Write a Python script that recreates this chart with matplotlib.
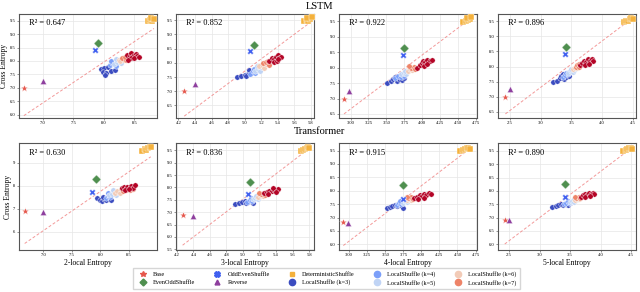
import numpy as np
import matplotlib
matplotlib.use("Agg")
import matplotlib.pyplot as plt
from matplotlib.ticker import FormatStrFormatter
from matplotlib.lines import Line2D

plt.rcParams["font.family"] = ["Liberation Serif", "DejaVu Serif"]

ngrams = [2, 3, 4, 5]
r2_lstm = ["0.647", "0.852", "0.922", "0.896"]
r2_tf = ["0.630", "0.836", "0.915", "0.890"]

# single-point models, one value per panel (n = 2..5)
lstm_base_x = [6.69, 4.27, 2.91, 2.43]
lstm_base_y = [7.00, 7.00, 7.00, 7.00]
lstm_rev_x = [7.00, 4.40, 2.98, 2.50]
lstm_rev_y = [7.26, 7.27, 7.24, 7.27]
lstm_oddeven_x = [7.85, 5.07, 3.73, 3.39]
lstm_oddeven_y = [8.41, 8.41, 8.40, 8.41]
lstm_evenodd_x = [7.90, 5.11, 3.75, 3.42]
lstm_evenodd_y = [8.65, 8.64, 8.63, 8.64]

tf_base_x = [6.67, 4.27, 2.92, 2.43]
tf_base_y = [6.91, 6.89, 6.84, 6.91]
tf_rev_x = [6.99, 4.39, 2.99, 2.50]
tf_rev_y = [6.88, 6.86, 6.79, 6.89]
tf_oddeven_x = [7.86, 5.06, 3.74, 3.41]
tf_oddeven_y = [7.75, 7.72, 7.70, 7.77]
tf_evenodd_x = [7.93, 5.09, 3.75, 3.42]
tf_evenodd_y = [8.29, 8.23, 8.20, 8.25]

# DeterministicShuffle clusters
lstm_det_x = [[8.72, 8.75, 8.78, 8.80, 8.77, 8.82], [5.72, 5.75, 5.77, 5.79, 5.76, 5.81],
              [4.56, 4.60, 4.63, 4.66, 4.62, 4.68], [4.35, 4.39, 4.42, 4.45, 4.47, 4.50]]
lstm_det_y = [[9.48, 9.53, 9.50, 9.57, 9.60, 9.55], [9.47, 9.52, 9.49, 9.56, 9.58, 9.60],
              [9.48, 9.52, 9.55, 9.58, 9.60, 9.62], [9.48, 9.52, 9.50, 9.56, 9.60, 9.58]]
tf_det_x = [[8.74, 8.78, 8.81, 8.84, 8.87, 8.89], [5.70, 5.73, 5.75, 5.77, 5.79, 5.80],
            [4.53, 4.57, 4.60, 4.63, 4.65, 4.67], [4.37, 4.41, 4.44, 4.47, 4.50, 4.52]]
tf_det_y = [[9.52, 9.58, 9.55, 9.62, 9.66, 9.68], [9.47, 9.52, 9.55, 9.58, 9.62, 9.60],
            [9.47, 9.51, 9.54, 9.58, 9.61, 9.57], [9.49, 9.53, 9.56, 9.60, 9.62, 9.58]]

# LocalShuffle clusters, k = 3..8
lstm_k3_x = [[7.96, 8.01, 8.07, 7.98, 8.04, 8.12, 8.18, 8.02], [4.91, 4.96, 5.00, 5.04, 5.08, 5.12, 5.02, 5.05],
             [3.51, 3.56, 3.59, 3.62, 3.65, 3.68, 3.71, 3.74], [3.20, 3.27, 3.31, 3.34, 3.38, 3.42, 3.46, 3.36]]
lstm_k3_y = [[7.69, 7.75, 7.78, 7.59, 7.54, 7.63, 7.66, 7.46], [7.50, 7.55, 7.58, 7.60, 7.66, 7.72, 7.53, 7.76],
             [7.49, 7.56, 7.62, 7.70, 7.58, 7.64, 7.60, 7.66], [7.50, 7.54, 7.62, 7.70, 7.58, 7.64, 7.68, 7.76]]
lstm_k4_x = [[8.10, 8.14, 8.18, 8.12, 8.20], [5.07, 5.10, 5.13, 5.15, 5.11],
             [3.62, 3.66, 3.70, 3.72, 3.75], [3.36, 3.40, 3.44, 3.47, 3.42]]
lstm_k4_y = [[7.84, 7.92, 7.88, 7.98, 7.80], [7.62, 7.70, 7.66, 7.75, 7.80],
             [7.66, 7.74, 7.70, 7.80, 7.74], [7.66, 7.72, 7.76, 7.82, 7.80]]
lstm_k5_x = [[8.16, 8.22, 8.26, 8.20, 8.28], [5.12, 5.16, 5.19, 5.20, 5.15],
             [3.70, 3.74, 3.77, 3.80, 3.76], [3.45, 3.49, 3.52, 3.54, 3.50]]
lstm_k5_y = [[7.90, 7.97, 8.02, 8.06, 7.94], [7.70, 7.78, 7.72, 7.84, 7.88],
             [7.78, 7.84, 7.80, 7.88, 7.90], [7.80, 7.86, 7.82, 7.90, 7.92]]
lstm_k6_x = [[8.24, 8.30, 8.27, 8.33], [5.18, 5.22, 5.24, 5.26],
             [3.80, 3.83, 3.86, 3.85], [3.53, 3.56, 3.59, 3.61]]
lstm_k6_y = [[8.04, 8.08, 7.98, 8.02], [7.88, 7.90, 7.82, 7.95],
             [7.90, 7.96, 7.92, 8.00], [7.92, 7.96, 7.94, 8.00]]
lstm_k7_x = [[8.30, 8.36, 8.40, 8.34], [5.22, 5.26, 5.29, 5.28],
             [3.84, 3.88, 3.82, 3.90], [3.57, 3.60, 3.63, 3.62]]
lstm_k7_y = [[8.12, 8.05, 8.10, 8.16], [7.98, 8.02, 7.94, 8.06],
             [7.98, 8.02, 8.04, 7.96], [7.98, 8.04, 8.00, 8.08]]
lstm_k8_x = [[8.38, 8.42, 8.45, 8.48, 8.52, 8.55, 8.44, 8.50, 8.40, 8.57],
             [5.30, 5.33, 5.36, 5.38, 5.40, 5.42, 5.44, 5.35, 5.39, 5.41],
             [3.92, 3.96, 3.99, 4.01, 4.04, 4.07, 4.10, 4.13, 4.02, 4.06],
             [3.64, 3.68, 3.71, 3.74, 3.77, 3.80, 3.83, 3.85, 3.72, 3.78]]
lstm_k8_y = [[8.22, 8.17, 8.28, 8.20, 8.24, 8.18, 8.10, 8.12, 8.05, 8.15],
             [8.08, 8.16, 8.12, 8.22, 8.26, 8.18, 8.20, 8.02, 8.06, 8.12],
             [8.00, 8.08, 8.14, 8.22, 8.18, 8.26, 8.20, 8.24, 8.06, 8.12],
             [8.06, 8.12, 8.18, 8.14, 8.24, 8.20, 8.26, 8.18, 8.04, 8.10]]

tf_k3_x = [[7.95, 7.99, 8.03, 8.07, 8.11, 8.15, 8.19, 8.05], [4.91, 4.95, 4.99, 5.02, 5.06, 5.09, 5.12, 5.04],
           [3.52, 3.56, 3.60, 3.63, 3.66, 3.70, 3.74, 3.68], [3.21, 3.27, 3.31, 3.35, 3.39, 3.43, 3.47, 3.50]]
tf_k3_y = [[7.46, 7.40, 7.36, 7.42, 7.38, 7.45, 7.40, 7.52], [7.33, 7.38, 7.40, 7.44, 7.41, 7.46, 7.38, 7.36],
           [7.34, 7.40, 7.44, 7.48, 7.42, 7.46, 7.36, 7.52], [7.40, 7.44, 7.48, 7.50, 7.46, 7.52, 7.48, 7.56]]
tf_k4_x = [[8.10, 8.13, 8.16, 8.18, 8.14], [5.05, 5.08, 5.11, 5.13, 5.10],
           [3.66, 3.69, 3.72, 3.74, 3.71], [3.40, 3.44, 3.48, 3.51, 3.46]]
tf_k4_y = [[7.48, 7.56, 7.62, 7.52, 7.70], [7.42, 7.50, 7.46, 7.54, 7.58],
           [7.46, 7.54, 7.50, 7.58, 7.60], [7.50, 7.56, 7.54, 7.60, 7.62]]
tf_k5_x = [[8.16, 8.20, 8.24, 8.27, 8.22], [5.12, 5.15, 5.18, 5.20, 5.16],
           [3.74, 3.77, 3.80, 3.82, 3.78], [3.50, 3.54, 3.57, 3.60, 3.56]]
tf_k5_y = [[7.58, 7.66, 7.72, 7.62, 7.80], [7.52, 7.58, 7.55, 7.62, 7.64],
           [7.54, 7.60, 7.58, 7.64, 7.66], [7.58, 7.62, 7.60, 7.66, 7.70]]
tf_k6_x = [[8.26, 8.30, 8.34, 8.37], [5.18, 5.21, 5.24, 5.22],
           [3.80, 3.83, 3.86, 3.84], [3.58, 3.62, 3.65, 3.63]]
tf_k6_y = [[7.70, 7.78, 7.68, 7.84], [7.62, 7.68, 7.66, 7.74],
           [7.64, 7.70, 7.66, 7.74], [7.66, 7.70, 7.68, 7.74]]
tf_k7_x = [[8.40, 8.46, 8.52, 8.58], [5.22, 5.25, 5.20, 5.27],
           [3.82, 3.86, 3.80, 3.88], [3.60, 3.64, 3.58, 3.67]]
tf_k7_y = [[7.78, 7.82, 7.80, 7.86], [7.72, 7.76, 7.78, 7.70],
           [7.72, 7.76, 7.76, 7.70], [7.74, 7.78, 7.76, 7.72]]
tf_k8_x = [[8.38, 8.42, 8.45, 8.48, 8.52, 8.55, 8.58, 8.61, 8.44, 8.50],
           [5.26, 5.29, 5.32, 5.35, 5.38, 5.41, 5.43, 5.36, 5.30, 5.40],
           [3.90, 3.94, 3.98, 4.01, 4.04, 4.07, 4.10, 4.13, 3.96, 4.03],
           [3.68, 3.72, 3.75, 3.78, 3.81, 3.84, 3.87, 3.90, 3.74, 3.82]]
tf_k8_y = [[7.90, 7.96, 7.88, 7.94, 7.90, 7.98, 7.92, 8.02, 7.80, 7.84],
           [7.76, 7.82, 7.86, 7.84, 7.90, 7.88, 7.94, 7.96, 7.74, 7.80],
           [7.74, 7.78, 7.84, 7.80, 7.88, 7.84, 7.92, 7.86, 7.70, 7.74],
           [7.78, 7.84, 7.88, 7.84, 7.92, 7.88, 7.94, 7.90, 7.76, 7.80]]

# dashed fit line (slope, intercept)
lstm_fit = [(1.526, -4.25), (2.163, -3.11), (1.75, 1.41), (1.537, 2.70)]
tf_fit = [(1.69, -5.77), (2.556, -5.25), (2.064, -0.07), (1.738, 1.78)]

# axis setup per column
xlims = [(6.61, 8.87), (4.17, 5.84), (2.84, 4.76), (2.31, 4.55)]
xticks = [[7.0, 7.5, 8.0, 8.5], np.arange(4.2, 5.81, 0.2), np.arange(3.0, 4.76, 0.25), [2.5, 3.0, 3.5, 4.0, 4.5]]
xfmts = ["%.1f", "%.1f", "%.2f", "%.1f"]
lstm_ylims = [(5.87, 9.75), (6.06, 9.72), (6.37, 9.73), (6.30, 9.74)]
lstm_yticks = [np.arange(6.0, 9.51, 0.5), np.arange(6.5, 9.51, 0.5), np.arange(6.5, 9.51, 0.5), np.arange(6.5, 9.51, 0.5)]
tf_xlims = [(6.57, 9.0), (4.19, 5.86), (2.86, 4.77), (2.32, 4.58)]
tf_ylims = [(5.22, 9.85), (5.47, 9.80), (5.79, 9.78), (5.78, 9.80)]
tf_yticks = [[6, 7, 8, 9], np.arange(5.5, 9.51, 0.5), np.arange(6.0, 9.51, 0.5), np.arange(6.0, 9.51, 0.5)]
tf_yfmts = ["%d", "%.1f", "%.1f", "%.1f"]

c_base = "#e5574c"
c_rev = "#8e3f9e"
c_oddeven = "#3f5ff0"
c_evenodd = "#4f8f4f"
c_det = "#f4b13c"
cmap = plt.get_cmap("coolwarm")
k_vals = [3, 4, 5, 6, 7, 8]
k_cols = [cmap((k - 3) / 5) for k in k_vals]

fig = plt.figure(figsize=(6.4, 2.92), dpi=100)
W, H = 640, 292
col_left = [19, 176, 339, 498]
col_w = 138
rows = [(14, 118), (143, 250)]


def draw_panel(ax, i, model):
    if model == "lstm":
        bx, by, rx, ry = lstm_base_x, lstm_base_y, lstm_rev_x, lstm_rev_y
        ox, oy, ex, ey = lstm_oddeven_x, lstm_oddeven_y, lstm_evenodd_x, lstm_evenodd_y
        dx, dy = lstm_det_x, lstm_det_y
        ks = [(lstm_k3_x, lstm_k3_y), (lstm_k4_x, lstm_k4_y), (lstm_k5_x, lstm_k5_y),
              (lstm_k6_x, lstm_k6_y), (lstm_k7_x, lstm_k7_y), (lstm_k8_x, lstm_k8_y)]
        fit, r2 = lstm_fit[i], r2_lstm[i]
        xl, yl, yt, yf = xlims[i], lstm_ylims[i], lstm_yticks[i], "%.1f"
    else:
        bx, by, rx, ry = tf_base_x, tf_base_y, tf_rev_x, tf_rev_y
        ox, oy, ex, ey = tf_oddeven_x, tf_oddeven_y, tf_evenodd_x, tf_evenodd_y
        dx, dy = tf_det_x, tf_det_y
        ks = [(tf_k3_x, tf_k3_y), (tf_k4_x, tf_k4_y), (tf_k5_x, tf_k5_y),
              (tf_k6_x, tf_k6_y), (tf_k7_x, tf_k7_y), (tf_k8_x, tf_k8_y)]
        fit, r2 = tf_fit[i], r2_tf[i]
        xl, yl, yt, yf = tf_xlims[i], tf_ylims[i], tf_yticks[i], tf_yfmts[i]

    ax.grid(True, color="#e6e6e6", lw=0.5, zorder=0)
    ax.set_axisbelow(True)

    # fit line from the smallest to the largest x in the panel
    x0 = bx[i]
    x1 = max(dx[i])
    xs = np.array([x0, x1])
    ax.plot(xs, fit[0] * xs + fit[1], ls=(0, (3, 2)), color="#f08080", lw=0.7, alpha=0.8, zorder=1)

    ew = 0.3
    for (kx, ky), col in zip(ks, k_cols):
        ax.scatter(kx[i], ky[i], s=15, color=col, edgecolor="white", lw=ew, zorder=3)
    ax.scatter(dx[i], dy[i], s=17, marker="s", color=c_det, edgecolor="white", lw=ew, zorder=3)
    ax.scatter(bx[i], by[i], s=32, marker="*", color=c_base, edgecolor="white", lw=ew, zorder=4)
    ax.scatter(rx[i], ry[i], s=20, marker="^", color=c_rev, edgecolor="white", lw=ew, zorder=4)
    ax.scatter(ox[i], oy[i], s=20, marker="X", color=c_oddeven, edgecolor="white", lw=ew, zorder=4)
    ax.scatter(ex[i], ey[i], s=22, marker="D", color=c_evenodd, edgecolor="white", lw=ew, zorder=4)

    ax.set_xlim(xl)
    ax.set_ylim(yl)
    ax.set_xticks(xticks[i])
    ax.set_yticks(yt)
    ax.xaxis.set_major_formatter(FormatStrFormatter(xfmts[i]))
    ax.yaxis.set_major_formatter(FormatStrFormatter(yf))
    ax.tick_params(labelsize=3.3, length=1.5, width=0.4, pad=1, color="#444")
    for sp in ax.spines.values():
        sp.set_color("#555555")
        sp.set_linewidth(0.8)
    ax.text(0.07, 0.89, "R\u00b2 = " + r2, transform=ax.transAxes, fontsize=6)


for r, model in enumerate(["lstm", "tf"]):
    top, bot = rows[r]
    for i in range(4):
        ax = fig.add_axes([col_left[i] / W, 1 - bot / H, col_w / W, (bot - top) / H])
        draw_panel(ax, i, model)
        if i == 0:
            ax.set_ylabel("Cross Entropy", fontsize=5.5, labelpad=1)
        if r == 1:
            ax.set_xlabel(f"{ngrams[i]}-local Entropy", fontsize=5.5, labelpad=1)

fig.text(0.5, 0.978, "LSTM", ha="center", va="center", fontsize=7.5)
fig.text(0.5, 0.548, "Transformer", ha="center", va="center", fontsize=7.5)

handles = [
    Line2D([], [], ls="", marker="*", color=c_base, ms=4, label="Base"),
    Line2D([], [], ls="", marker="D", color=c_evenodd, ms=3.5, label="EvenOddShuffle"),
    Line2D([], [], ls="", marker="X", color=c_oddeven, ms=4, label="OddEvenShuffle"),
    Line2D([], [], ls="", marker="^", color=c_rev, ms=3.5, label="Reverse"),
    Line2D([], [], ls="", marker="s", color=c_det, ms=3.5, label="DeterministicShuffle"),
]
for k, col in zip(k_vals[:5], k_cols[:5]):
    handles.append(Line2D([], [], ls="", marker="o", color=col, ms=4.5, label=f"LocalShuffle (k={k})"))

fig.legend(handles=handles, loc="lower center", bbox_to_anchor=(0.51, 0.0), ncol=5, fontsize=4.5,
           frameon=True, edgecolor="#cccccc", fancybox=False, handletextpad=0.6, columnspacing=2.6,
           borderpad=0.5, labelspacing=0.4)

fig.savefig("out.png", dpi=100)
